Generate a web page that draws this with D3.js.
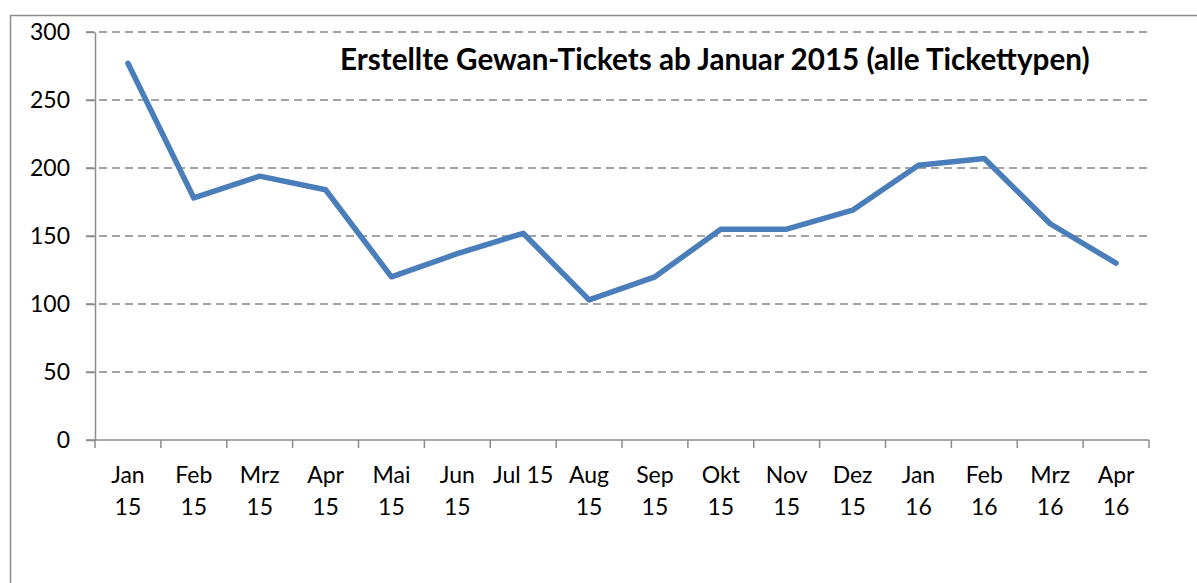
<!DOCTYPE html>
<html lang="de">
<head>
<meta charset="utf-8">
<script src="https://d3js.org/d3.v7.min.js"></script>
<style>
body { margin: 0; background: #fff; }
text { font-family: Lato, "Open Sans", sans-serif; fill: #000; }
.grid line { stroke: #868686; stroke-width: 1.5; stroke-dasharray: 8,5; }
.axis path, .axis line { stroke: #8c8c8c; stroke-width: 1.5; }
</style>
</head>
<body>
<script>
// Monatsbeschriftungen (zweizeilig, wie im Original)
var months = ["Jan 15", "Feb 15", "Mrz 15", "Apr 15", "Mai 15", "Jun 15", "Jul 15", "Aug 15",
              "Sep 15", "Okt 15", "Nov 15", "Dez 15", "Jan 16", "Feb 16", "Mrz 16", "Apr 16"];
// Anzahl erstellter Tickets
var tickets = [277, 178, 194, 184, 120, 137, 152, 103, 120, 155, 155, 169, 202, 207, 159, 130];
var yTicks = [0, 50, 100, 150, 200, 250, 300];
var title = "Erstellte Gewan-Tickets ab Januar 2015 (alle Tickettypen)";

var width = 1197, height = 583;
var plotLeft = 95, plotRight = 1149, plotTop = 32, plotBottom = 440;

var svg = d3.select("body").append("svg")
    .attr("width", width)
    .attr("height", height);

// Rahmen ums Diagramm
svg.append("rect")
    .attr("x", 10.5).attr("y", 15.5)
    .attr("width", width + 20).attr("height", height + 20)
    .attr("fill", "none")
    .attr("stroke", "#8c8c8c")
    .attr("stroke-width", 1.5);

var x = d3.scaleBand().domain(months).range([plotLeft, plotRight]);
var y = d3.scaleLinear().domain([0, 300]).range([plotBottom, plotTop]);

// Gitternetzlinien
svg.append("g")
    .attr("class", "grid")
  .selectAll("line")
  .data(yTicks.filter(function(d) { return d > 0; }))
  .enter().append("line")
    .attr("x1", plotLeft - 9)
    .attr("x2", plotRight)
    .attr("y1", function(d) { return y(d); })
    .attr("y2", function(d) { return y(d); });

// Y-Achse
var yAxis = svg.append("g")
    .attr("class", "axis")
    .attr("transform", "translate(" + plotLeft + ",0)")
    .call(d3.axisLeft(y).tickValues(yTicks).tickSize(9).tickPadding(16).tickSizeOuter(0));
yAxis.selectAll("text").style("font-size", "23px").style("font-family", "Lato, sans-serif");

// X-Achse mit Trennstrichen zwischen den Monaten
var xAxis = svg.append("g")
    .attr("class", "axis")
    .attr("transform", "translate(0," + plotBottom + ")");
xAxis.append("line")
    .attr("x1", plotLeft - 9).attr("x2", plotRight);
xAxis.selectAll(".sep")
    .data(months.concat(["end"]))
  .enter().append("line")
    .attr("class", "sep")
    .attr("x1", function(d, i) { return plotLeft + i * x.bandwidth(); })
    .attr("x2", function(d, i) { return plotLeft + i * x.bandwidth(); })
    .attr("y1", 0).attr("y2", 8);

var labels = svg.append("g").selectAll("text")
  .data(months)
  .enter().append("text")
    .attr("text-anchor", "middle")
    .style("font-size", "23px")
    .attr("x", function(d) { return x(d) + x.bandwidth() / 2; })
    .attr("y", 483);

labels.each(function(d) {
  var t = d3.select(this);
  if (d === "Jul 15") { t.text(d); return; }
  var parts = d.split(" ");
  t.append("tspan").attr("x", x(d) + x.bandwidth() / 2).text(parts[0]);
  t.append("tspan").attr("x", x(d) + x.bandwidth() / 2).attr("dy", 32).text(parts[1]);
});

// Linie
var line = d3.line()
    .x(function(d, i) { return x(months[i]) + x.bandwidth() / 2; })
    .y(function(d) { return y(d); });

svg.append("path")
    .datum(tickets)
    .attr("fill", "none")
    .attr("stroke", "#4a7ebb")
    .attr("stroke-width", 5.5)
    .attr("stroke-linejoin", "round")
    .attr("stroke-linecap", "round")
    .attr("d", line);

// Titel, auf Originalbreite skaliert
var t = svg.append("text")
    .attr("x", 340)
    .attr("y", 70)
    .style("font-weight", "bold")
    .style("font-size", "26px")
    .text(title);
var w = t.node().getComputedTextLength();
t.style("font-size", (26 * 750 / w) + "px");
</script>
</body>
</html>
